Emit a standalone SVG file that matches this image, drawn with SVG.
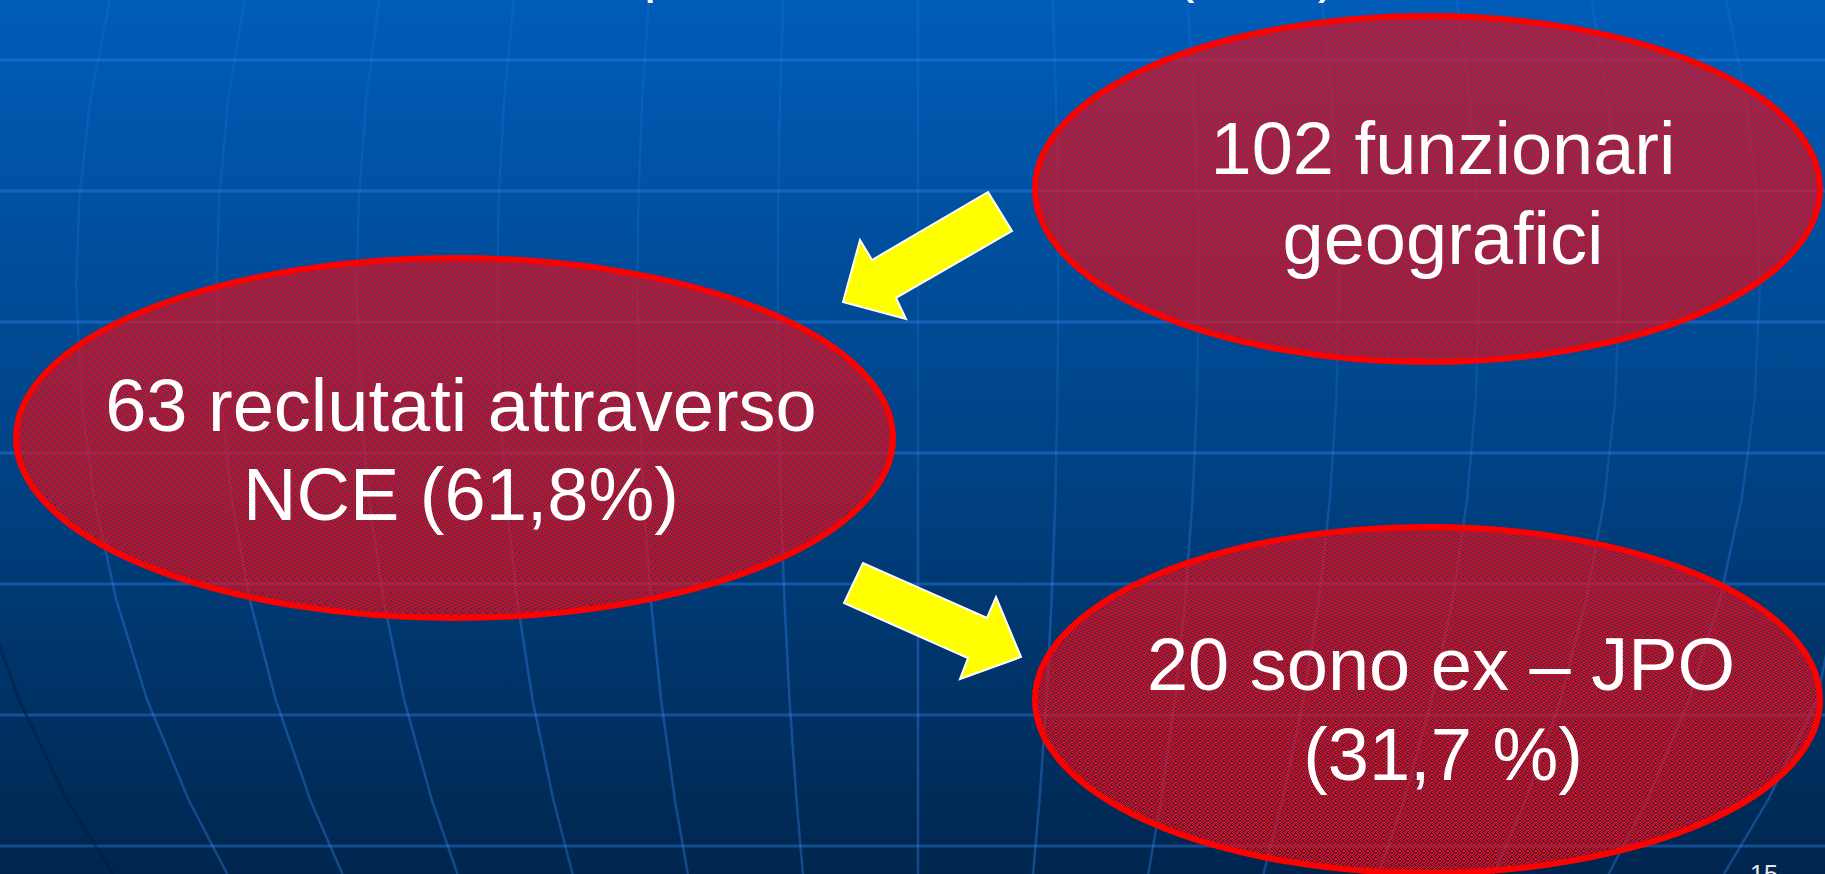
<svg xmlns="http://www.w3.org/2000/svg" width="1825" height="874" viewBox="0 0 1825 874">
<defs>
<linearGradient id="bg" x1="0" y1="0" x2="0" y2="1">
<stop offset="0" stop-color="#005cb8"/>
<stop offset="0.5" stop-color="#004488"/>
<stop offset="1" stop-color="#00264f"/>
</linearGradient>
<linearGradient id="merid" gradientUnits="userSpaceOnUse" x1="0" y1="0" x2="0" y2="874">
<stop offset="0" stop-color="#3a8cff" stop-opacity="0.14"/>
<stop offset="0.45" stop-color="#3a8cff" stop-opacity="0.16"/>
<stop offset="0.7" stop-color="#3a8cff" stop-opacity="0.33"/>
<stop offset="1" stop-color="#3a8cff" stop-opacity="0.33"/>
</linearGradient>
<pattern id="tex" patternUnits="userSpaceOnUse" x="0" y="0" width="8" height="8">
<path fill="#ee0a14" d="M0 0h2v1h-2zM3 0h2v1h-2zM6 0h1v1h-1zM1 1h2v1h-2zM4 1h3v1h-3zM0 2h1v1h-1zM2 2h2v1h-2zM5 2h1v1h-1zM7 2h1v1h-1zM0 3h2v1h-2zM3 3h2v1h-2zM6 3h2v1h-2zM1 4h2v1h-2zM4 4h2v1h-2zM7 4h1v1h-1zM0 5h1v1h-1zM2 5h3v1h-3zM6 5h1v1h-1zM0 6h2v1h-2zM3 6h1v1h-1zM5 6h3v1h-3zM1 7h2v1h-2zM4 7h2v1h-2zM7 7h1v1h-1z"/>
</pattern>
<style>
.hline{stroke:#3a8cff;stroke-opacity:0.35;stroke-width:3;fill:none}
.mline{stroke:url(#merid);stroke-width:2.5;fill:none}
.oval{fill:url(#tex);stroke:#ff0000;stroke-width:6}
.lbl{font-family:"Liberation Sans",Arial,sans-serif;font-size:74px;fill:#ffffff;text-anchor:middle}
.arrow{fill:#ffff00;stroke:#ffffff;stroke-width:2;stroke-linejoin:miter}
.title{font-family:"Liberation Sans",Arial,sans-serif;font-size:56px;fill:#ffffff}
</style>
</defs>

<g id="background">
<rect x="0" y="0" width="1825" height="874" fill="url(#bg)"/>
<g id="parallels">
<line class="hline" x1="0" y1="60" x2="1825" y2="60"/>
<line class="hline" x1="0" y1="191" x2="1825" y2="191"/>
<line class="hline" x1="0" y1="322" x2="1825" y2="322"/>
<line class="hline" x1="0" y1="453" x2="1825" y2="453"/>
<line class="hline" x1="0" y1="584" x2="1825" y2="584"/>
<line class="hline" x1="0" y1="715" x2="1825" y2="715"/>
<line class="hline" x1="0" y1="846" x2="1825" y2="846"/>
</g>
<g id="meridians">
<path class="mline" d="M918 0V874"/>
<path class="mline" d="M1052.7 0L1056 100L1057.8 200L1058.3 287L1057.4 400L1055.3 500L1051.6 600L1046.5 700L1039.5 800L1033.1 874"/>
<path class="mline" d="M783.3 0L780 100L778.2 200L777.7 287L778.6 400L780.7 500L784.4 600L789.5 700L796.5 800L802.9 874"/>
<path class="mline" d="M1187.4 0L1193.9 100L1197.6 200L1198.6 287L1196.9 400L1192.5 500L1185.2 600L1174.9 700L1161.1 800L1148.2 874"/>
<path class="mline" d="M648.6 0L642.1 100L638.4 200L637.4 287L639.1 400L643.5 500L650.8 600L661.1 700L674.9 800L687.8 874"/>
<path class="mline" d="M1322.1 0L1331.9 100L1337.4 200L1338.9 287L1336.3 400L1329.8 500L1318.9 600L1303.4 700L1282.6 800L1263.4 874"/>
<path class="mline" d="M513.9 0L504.1 100L498.6 200L497.1 287L499.7 400L506.2 500L517.1 600L532.6 700L553.4 800L572.6 874"/>
<path class="mline" d="M1456.8 0L1469.8 100L1477.2 200L1479.2 287L1475.8 400L1467 500L1452.5 600L1431.8 700L1404.2 800L1378.5 874"/>
<path class="mline" d="M379.2 0L366.2 100L358.8 200L356.8 287L360.2 400L369 500L383.5 600L404.2 700L431.8 800L457.5 874"/>
<path class="mline" d="M1591.5 0L1607.8 100L1617 200L1619.5 287L1615.2 400L1604.3 500L1586.1 600L1560.3 700L1525.7 800L1493.6 874"/>
<path class="mline" d="M244.5 0L228.2 100L219 200L216.5 287L220.8 400L231.7 500L249.9 600L275.7 700L310.3 800L342.4 874"/>
<path class="mline" d="M1726.2 0L1745.8 100L1756.8 200L1759.8 287L1754.7 400L1741.5 500L1719.7 600L1688.8 700L1647.3 800L1608.7 874"/>
<path class="mline" d="M109.8 0L90.2 100L79.2 200L76.2 287L81.3 400L94.5 500L116.3 600L147.2 700L188.7 800L227.3 874"/>
<path class="mline" d="M1837 600L1817 700L1768 800L1724 874"/>
<path d="M-17 600L19 700L67 800L113 874" fill="none" stroke="#001a3a" stroke-opacity="0.45" stroke-width="3"/>
</g>
</g>

<g id="title-fragment">
<text class="title" x="644" y="-9">p</text>
<text class="title" x="1176" y="-9">(</text>
<text class="title" x="1318" y="-9">)</text>
</g>

<g id="node-funzionari">
<ellipse class="oval" cx="1427.5" cy="189" rx="392.5" ry="173"/>
<text class="lbl" x="1443" y="174">102 funzionari</text>
<text class="lbl" x="1443" y="264">geografici</text>
</g>

<g id="node-reclutati">
<ellipse class="oval" cx="454.5" cy="438" rx="438.5" ry="180"/>
<text class="lbl" x="461" y="431">63 reclutati attraverso</text>
<text class="lbl" x="461" y="520">NCE (61,8%)</text>
</g>

<g id="node-exjpo">
<ellipse class="oval" cx="1427.5" cy="700" rx="392.5" ry="173"/>
<text class="lbl" x="1441" y="690">20 sono ex – JPO</text>
<text class="lbl" x="1443" y="780">(31,7 %)</text>
</g>

<g id="connectors">
<polygon class="arrow" points="988,192 1012,231 896,298 906,319 843,302 860,240 872,260"/>
<polygon class="arrow" points="863,563 844,603 968,658 960,679 1021,657 996,597 987,618"/>
</g>

<g id="slide-number">
<text x="1750" y="883" font-family="'Liberation Sans',Arial,sans-serif" font-size="25" fill="#e8e8e8">15</text>
</g>
</svg>
